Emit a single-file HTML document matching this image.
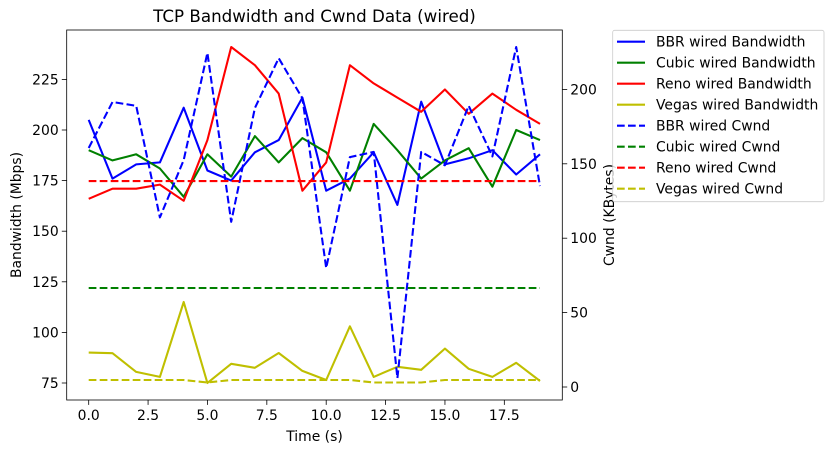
<!DOCTYPE html>
<html><head><meta charset="utf-8"><style>
body{margin:0;background:#fff;}
svg{display:block;font-family:"DejaVu Sans","Liberation Sans",sans-serif;}
</style></head><body>
<svg id="c" width="834" height="453" viewBox="0 0 834 453"></svg>
<script>
const times=[0,1,2,3,4,5,6,7,8,9,10,11,12,13,14,15,16,17,18,19];
const bbrBw=[205,176,183,184,211,180,175,189,195,216,170,176,189,163,214,183,186,190,178,188];
const cubicBw=[190,185,188,181,167,188,177,197,184,196,189,170,203,190,176,185,191,172,200,195];
const renoBw=[166,171,171,173,165,195,241,232,218,170,184,232,223,216,209,220,208,218,210,203];
const vegasBw=[90,89.7,80.5,78,115,75,84.5,82.5,89.8,81,76.5,103,78,83,81.5,92,82,78,85,76];
const bbrCwnd=[160.6,191.5,189,114,152.5,224.5,111,187.5,221,194,80,154.5,158,6,158,149,189,155,228.5,135];
const cubicCwnd=[66.5,66.5,66.5,66.5,66.5,66.5,66.5,66.5,66.5,66.5,66.5,66.5,66.5,66.5,66.5,66.5,66.5,66.5,66.5,66.5];
const renoCwnd=[138.4,138.4,138.4,138.4,138.4,138.4,138.4,138.4,138.4,138.4,138.4,138.4,138.4,138.4,138.4,138.4,138.4,138.4,138.4,138.4];
const vegasCwnd=[4.7,4.7,4.7,4.7,4.7,3,4.7,4.7,4.7,4.7,4.7,4.7,3,3,3,4.7,4.7,4.7,4.7,4.7];
const xTicks=[0,2.5,5,7.5,10,12.5,15,17.5];
const xTickLabels=["0.0","2.5","5.0","7.5","10.0","12.5","15.0","17.5"];
const yLTicks=[75,100,125,150,175,200,225];
const yRTicks=[0,50,100,150,200];

const NS="http://www.w3.org/2000/svg";
const svg=document.getElementById('c');
const L=66.7,R=562.3,T=30,B=400;
const FS=13.9;
const LW=2.08, DASH='7.7,3.3';
const xs=v=>88.7+v*23.75;
const yl=v=>383-(v-75)*101.2/50;
const yr=v=>387-v*74.4/50;
function mk(tag,attrs,parent){const e=document.createElementNS(NS,tag);for(const k in attrs)e.setAttribute(k,attrs[k]);(parent||svg).appendChild(e);return e;}
function txt(s,attrs){const e=mk('text',attrs);e.textContent=s;return e;}

const frame=mk('rect',{x:L,y:T,width:R-L,height:B-T,fill:'none',stroke:'#000','stroke-width':0.8});



xTicks.forEach((t,i)=>{
  const g=mk('g',{});
  
  
  mk('line',{x1:xs(t),x2:xs(t),y1:B,y2:B+4.9,stroke:'#000','stroke-width':0.8},g);
  const e=mk('text',{x:xs(t),y:B+20,'font-size':FS,'text-anchor':'middle'},g);e.textContent=xTickLabels[i];
});
yLTicks.forEach(t=>{
  const g=mk('g',{});
  
  
  mk('line',{x1:L-4.9,x2:L,y1:yl(t),y2:yl(t),stroke:'#000','stroke-width':0.8},g);
  const e=mk('text',{x:L-8,y:yl(t)+5,'font-size':FS,'text-anchor':'end'},g);e.textContent=t;
});
yRTicks.forEach(t=>{
  const g=mk('g',{});
  
  
  mk('line',{x1:R,x2:R+4.9,y1:yr(t),y2:yr(t),stroke:'#000','stroke-width':0.8},g);
  const e=mk('text',{x:R+8,y:yr(t)+5,'font-size':FS},g);e.textContent=t;
});

const series=[
 [bbrBw,'#0000ff',false,yl,'bbr-bandwidth-line'],
 [cubicBw,'#008000',false,yl,'cubic-bandwidth-line'],
 [renoBw,'#ff0000',false,yl,'reno-bandwidth-line'],
 [vegasBw,'#bfbf00',false,yl,'vegas-bandwidth-line'],
 [bbrCwnd,'#0000ff',true,yr,'bbr-cwnd-line'],
 [cubicCwnd,'#008000',true,yr,'cubic-cwnd-line'],
 [renoCwnd,'#ff0000',true,yr,'reno-cwnd-line'],
 [vegasCwnd,'#bfbf00',true,yr,'vegas-cwnd-line']];
series.forEach(s=>{
  const pts=s[0].map((v,i)=>xs(times[i]).toFixed(1)+','+s[3](v).toFixed(1)).join(' ');
  const a={points:pts,fill:'none',stroke:s[1],'stroke-width':LW,'stroke-linejoin':'round'};
  if(s[2])a['stroke-dasharray']=DASH;
  const p=mk('polyline',a);
  
  
});

const title=txt('TCP Bandwidth and Cwnd Data (wired)',{x:(L+R)/2,y:22,'font-size':16.7,'text-anchor':'middle'});


const xl=txt('Time (s)',{x:(L+R)/2,y:441,'font-size':FS,'text-anchor':'middle'});


const ylt=txt('Bandwidth (Mbps)',{x:0,y:0,'font-size':FS,'text-anchor':'middle',transform:'translate(21,'+(T+B)/2+') rotate(-90)'});


const yrt=txt('Cwnd (KBytes)',{x:0,y:0,'font-size':FS,'text-anchor':'middle',transform:'translate(614,'+(T+B)/2+') rotate(-90)'});



const lg=mk('g',{});


mk('rect',{x:612.7,y:30.3,width:211.3,height:171.4,rx:2,fill:'#fff','fill-opacity':0.8,stroke:'#ccc','stroke-width':0.8},lg);
const labels=['BBR wired Bandwidth','Cubic wired Bandwidth','Reno wired Bandwidth','Vegas wired Bandwidth','BBR wired Cwnd','Cubic wired Cwnd','Reno wired Cwnd','Vegas wired Cwnd'];
labels.forEach((lab,i)=>{
  const y=41.7+i*21;
  const g=mk('g',{},lg);
  
  
  const a={x1:617,x2:645,y1:y,y2:y,stroke:series[i][1],'stroke-width':LW};
  if(series[i][2])a['stroke-dasharray']=DASH;
  mk('line',a,g);
  const e=mk('text',{x:656,y:y+5,'font-size':FS},g);e.textContent=lab;
});
</script>
</body></html>
